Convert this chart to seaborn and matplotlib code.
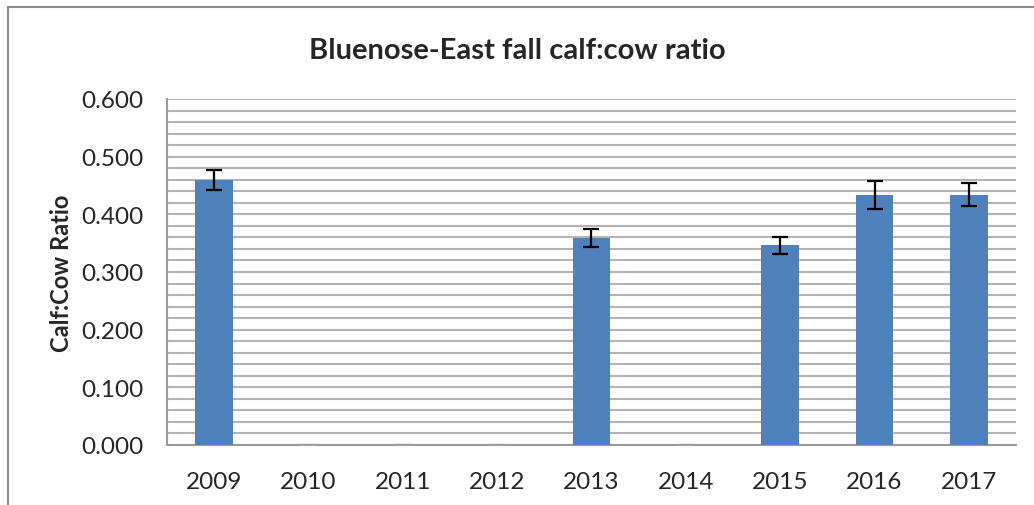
import matplotlib
matplotlib.use("Agg")
import matplotlib.pyplot as plt
import numpy as np
import pandas as pd
import seaborn as sns
from matplotlib.patches import Rectangle

years = ["2009", "2010", "2011", "2012", "2013", "2014", "2015", "2016", "2017"]
ratio = [0.459, 0.0, 0.0, 0.0, 0.359, 0.0, 0.346, 0.433, 0.434]
err = [0.017, 0.0, 0.0, 0.0, 0.016, 0.0, 0.015, 0.024, 0.020]

df = pd.DataFrame({"year": years, "ratio": ratio, "err": err})

sns.set_style("white")
plt.rcParams["font.family"] = ["Lato", "DejaVu Sans"]

fig = plt.figure(figsize=(10.34, 5.06), dpi=100)
ax = fig.add_axes([0.1615, 0.1186, 0.8211, 0.6838])

sns.barplot(data=df, x="year", y="ratio", color="#4F81BD", width=0.40,
            saturation=1, errorbar=None, linewidth=0, ax=ax, zorder=3)

# error bars (black for real values, faint grey caps for empty years)
x = np.arange(len(years))
for xi, v, e in zip(x, ratio, err):
    c = "black" if v > 0 else "#a0a0a0"
    ax.errorbar(xi, v, yerr=e, fmt="none", ecolor=c, elinewidth=1.6,
                capsize=6, capthick=1.6, zorder=4)

ax.set_ylim(0, 0.6)
ax.set_xlim(-0.5, len(years) - 0.5)
ax.set_yticks(np.arange(0, 0.61, 0.1))
ax.set_yticklabels([f"{t:.3f}" for t in np.arange(0, 0.61, 0.1)], fontsize=17.5)
ax.set_yticks(np.arange(0, 0.61, 0.02), minor=True)
ax.tick_params(axis="x", labelsize=17.5, length=0, pad=19)
ax.tick_params(axis="y", which="both", length=0, pad=17)
ax.grid(axis="y", which="both", color="#b4b4b4", linewidth=1.5, zorder=0)
ax.set_axisbelow(True)

for s in ["top", "right"]:
    ax.spines[s].set_visible(False)
for s in ["left", "bottom"]:
    ax.spines[s].set_color("#9a9a9a")
    ax.spines[s].set_linewidth(1.5)

ax.set_xlabel("")
ax.set_ylabel("Calf:Cow Ratio", fontsize=17, fontweight="bold", labelpad=6)
fig.text(0.5, 0.9, "Bluenose-East fall calf:cow ratio", ha="center",
         va="center", fontsize=21, fontweight="bold")

fig.patches.append(Rectangle((8 / 1034, -0.01), 1.1, 1 - 8 / 506 + 0.01,
                             transform=fig.transFigure, fill=False,
                             edgecolor="#8c8c8c", linewidth=1.5))

fig.savefig("out.png", dpi=100)
